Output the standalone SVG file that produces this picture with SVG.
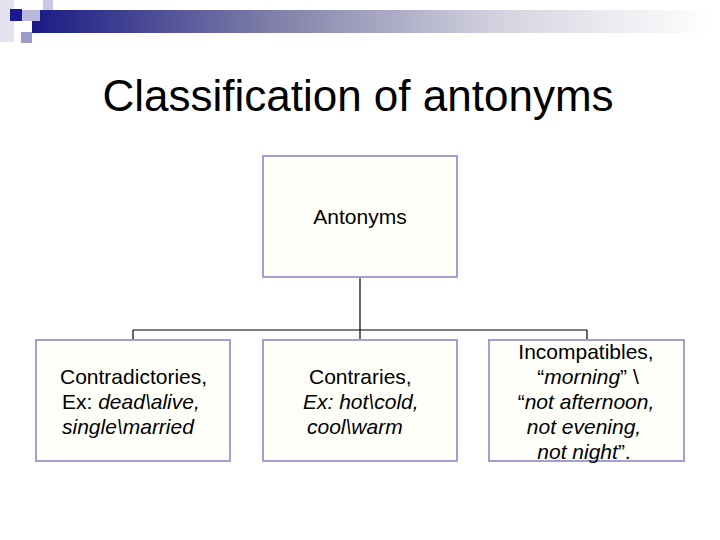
<svg xmlns="http://www.w3.org/2000/svg" width="720" height="540" viewBox="0 0 720 540">
<style>
.box{fill:#fffffa;stroke:#a29fd2;stroke-width:2}
.t{font-family:"Liberation Sans",Arial,sans-serif;font-size:21px;fill:#000}
.i{font-style:italic}
.c{stroke:#000;stroke-width:1.2;fill:none}
</style>
<defs>
<linearGradient id="bar" x1="0" y1="0" x2="1" y2="0">
<stop offset="0" stop-color="#1a1a85"/>
<stop offset="0.35" stop-color="#7e7ea8"/>
<stop offset="0.7" stop-color="#d6d6e2"/>
<stop offset="1" stop-color="#ffffff"/>
</linearGradient>
</defs>
<rect width="720" height="540" fill="#fff"/>
<g id="header">
<rect x="0" y="0" width="14" height="42" fill="#e2e2f0"/>
<rect x="43" y="0" width="10" height="10" fill="#c8c8e4"/>
<rect x="32" y="10" width="680" height="23" fill="url(#bar)"/>
<rect x="22" y="10" width="18" height="11" fill="#b8b8dc"/>
<rect x="10" y="9" width="12" height="12" fill="#1a1a90"/>
<rect x="21" y="32" width="11" height="11" fill="#9a9acb"/>
</g>
<text class="t" x="358" y="111" text-anchor="middle" style="font-size:44px">Classification of antonyms</text>
<g id="connectors">
<path class="c" d="M360 277V330M133 330H587M133 330V339M587 330V339M360 330V339"/>
</g>
<g id="antonyms">
<rect class="box" x="263" y="156" width="194" height="121"/>
<text class="t" x="360" y="224" text-anchor="middle">Antonyms</text>
</g>
<g id="contradictories">
<rect class="box" x="36" y="340" width="194" height="121"/>
<text class="t" x="60" y="384">Contradictories,</text>
<text class="t" x="62" y="409">Ex: <tspan class="i">dead\alive,</tspan></text>
<text class="t i" x="62" y="434">single\married</text>
</g>
<g id="contraries">
<rect class="box" x="263" y="340" width="194" height="121"/>
<text class="t" x="309" y="384">Contraries,</text>
<text class="t i" x="303" y="409">Ex: hot\cold,</text>
<text class="t i" x="307" y="434">cool\warm</text>
</g>
<g id="incompatibles">
<rect class="box" x="489" y="340" width="195" height="121"/>
<text class="t" x="586" y="359" text-anchor="middle">Incompatibles,</text>
<text class="t" x="588" y="384" text-anchor="middle">“<tspan class="i">morning</tspan>” \</text>
<text class="t" x="586" y="409" text-anchor="middle">“<tspan class="i">not afternoon,</tspan></text>
<text class="t i" x="584" y="434" text-anchor="middle">not evening,</text>
<text class="t" x="584" y="459" text-anchor="middle"><tspan class="i">not night</tspan>”.</text>
</g>
</svg>
